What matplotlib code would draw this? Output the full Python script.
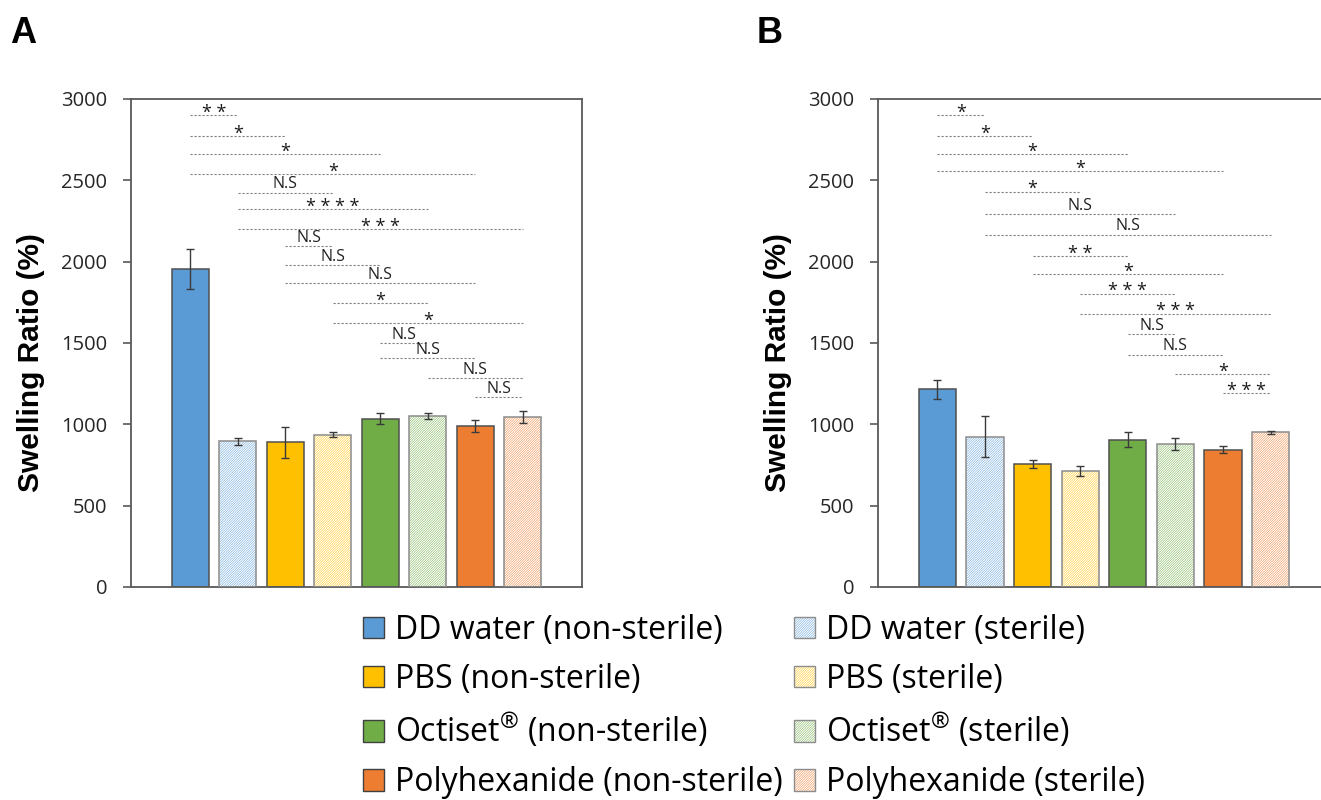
import matplotlib
matplotlib.use('Agg')
import matplotlib.pyplot as plt
from matplotlib.patches import Patch

plt.rcParams['font.family'] = ['Open Sans', 'DejaVu Sans']
plt.rcParams['mathtext.default'] = 'regular'
plt.rcParams['hatch.linewidth'] = 0.35

# Groups: solution x sterilisation
groups = ['DD water (non-sterile)', 'DD water (sterile)',
          'PBS (non-sterile)', 'PBS (sterile)',
          'Octiset$^{®}$ (non-sterile)', 'Octiset$^{®}$ (sterile)',
          'Polyhexanide (non-sterile)', 'Polyhexanide (sterile)']
colors = ['#5B9BD5', '#5B9BD5', '#FFC000', '#FFC000',
          '#70AD47', '#70AD47', '#ED7D31', '#ED7D31']
sterile = [False, True, False, True, False, True, False, True]

# Panel A swelling ratio (%)
mean_a = [1955, 895, 891, 935, 1035, 1050, 990, 1045]
sd_a = [120, 20, 95, 15, 35, 20, 35, 35]

# Panel B swelling ratio (%)
mean_b = [1215, 925, 755, 715, 905, 878, 845, 950]
sd_b = [60, 125, 25, 30, 45, 35, 22, 8]

# significance comparisons (group i vs group j, label, bracket height)
sig_a_i = [0, 0, 0, 0, 1, 1, 1, 2, 2, 2, 3, 3, 4, 4, 5, 6]
sig_a_j = [1, 2, 4, 6, 3, 5, 7, 3, 4, 6, 5, 7, 5, 6, 7, 7]
sig_a_txt = ['**', '*', '*', '*', 'N.S', '****', '***', 'N.S', 'N.S', 'N.S',
             '*', '*', 'N.S', 'N.S', 'N.S', 'N.S']
sig_a_y = [2900, 2773, 2662, 2539, 2425, 2322, 2199, 2096, 1981, 1867,
           1744, 1625, 1502, 1405, 1282, 1170]

sig_b_i = [0, 0, 0, 0, 1, 1, 1, 2, 2, 3, 3, 4, 4, 5, 6]
sig_b_j = [1, 2, 4, 6, 3, 5, 7, 4, 6, 5, 7, 5, 6, 7, 7]
sig_b_txt = ['*', '*', '*', '*', '*', 'N.S', 'N.S', '**', '*', '***', '***',
             'N.S', 'N.S', '*', '***']
sig_b_y = [2900, 2773, 2663, 2558, 2431, 2295, 2166, 2033, 1926, 1804, 1681,
           1556, 1429, 1311, 1194]

HATCH = '/' * 14
SPINE = '#595959'


def draw_panel(ax, means, sds, si, sj, stxt, sy):
    x = list(range(len(means)))
    for k in x:
        if sterile[k]:
            ax.bar(k, means[k], width=0.78, facecolor='white',
                   edgecolor=colors[k], hatch=HATCH, linewidth=0, zorder=2)
            ax.bar(k, means[k], width=0.78, fill=False,
                   edgecolor='#8c8c8c', linewidth=1.1, zorder=3)
        else:
            ax.bar(k, means[k], width=0.78, color=colors[k],
                   edgecolor='#505050', linewidth=1.1, zorder=2)
    ax.errorbar(x, means, yerr=sds, fmt='none', ecolor='#3a3a3a',
                elinewidth=1.0, capsize=3, capthick=1.0, zorder=4)

    # dotted comparison lines with their labels
    for a, b, t, y in zip(si, sj, stxt, sy):
        ax.plot([a, b], [y, y], color='#808080', lw=0.8,
                linestyle=(0, (2, 1.6)), zorder=1)
        if t == 'N.S':
            ax.annotate(t, xy=((a + b) / 2, y), xytext=(0, 3),
                        textcoords='offset points', ha='center',
                        va='baseline', fontsize=11.5, color='#222222')
        else:
            ax.annotate(' '.join(t), xy=((a + b) / 2, y), xytext=(0, -2),
                        textcoords='offset points', ha='center',
                        va='baseline', fontsize=13, color='#1a1a1a')

    ax.set_xlim(-1.25, 8.25)
    ax.set_ylim(0, 3000)
    ax.set_yticks(range(0, 3001, 500))
    ax.set_xticks([])
    ax.tick_params(axis='y', direction='out', length=6, width=1.2, pad=11,
                   labelsize=14.5, colors='#262626')
    ax.tick_params(axis='y', color=SPINE)
    for s in ax.spines.values():
        s.set_color(SPINE)
        s.set_linewidth(1.3)
    ax.set_ylabel('Swelling Ratio (%)', fontsize=21.5, fontweight='bold',
                  family=['Liberation Sans', 'DejaVu Sans'])
    ax.yaxis.set_label_coords(-0.19, 0.46)


fig = plt.figure(figsize=(13.21, 8), dpi=100)
ax_a = fig.add_axes([131 / 1321, 213 / 800, 451 / 1321, 488 / 800])
ax_b = fig.add_axes([878 / 1321, 213 / 800, 452 / 1321, 488 / 800])

draw_panel(ax_a, mean_a, sd_a, sig_a_i, sig_a_j, sig_a_txt, sig_a_y)
draw_panel(ax_b, mean_b, sd_b, sig_b_i, sig_b_j, sig_b_txt, sig_b_y)

fig.text(10 / 1321, 1 - 43 / 800, 'A', fontsize=26, fontweight='bold',
         family=['Liberation Sans', 'DejaVu Sans'], va='baseline')
fig.text(757 / 1321, 1 - 43 / 800, 'B', fontsize=26, fontweight='bold',
         family=['Liberation Sans', 'DejaVu Sans'], va='baseline')

# legend: non-sterile in first column, sterile in second
handles = []
labels = []
for k in [0, 2, 4, 6, 1, 3, 5, 7]:
    if sterile[k]:
        h = (Patch(facecolor='white', edgecolor=colors[k], hatch=HATCH, linewidth=0),
             Patch(fill=False, edgecolor='#8c8c8c', linewidth=1.0))
    else:
        h = Patch(facecolor=colors[k], edgecolor='#404040', linewidth=1.0)
    handles.append(h)
    labels.append(groups[k])

fig.legend(handles, labels, ncol=2, loc='upper left',
           bbox_to_anchor=(363 / 1321, 1 - 614 / 800), frameon=False,
           fontsize=23, handlelength=0.65, handleheight=0.65,
           handletextpad=0.35, columnspacing=0.35, labelspacing=0.5,
           borderpad=0, borderaxespad=0)

fig.savefig('out.png', dpi=100)
